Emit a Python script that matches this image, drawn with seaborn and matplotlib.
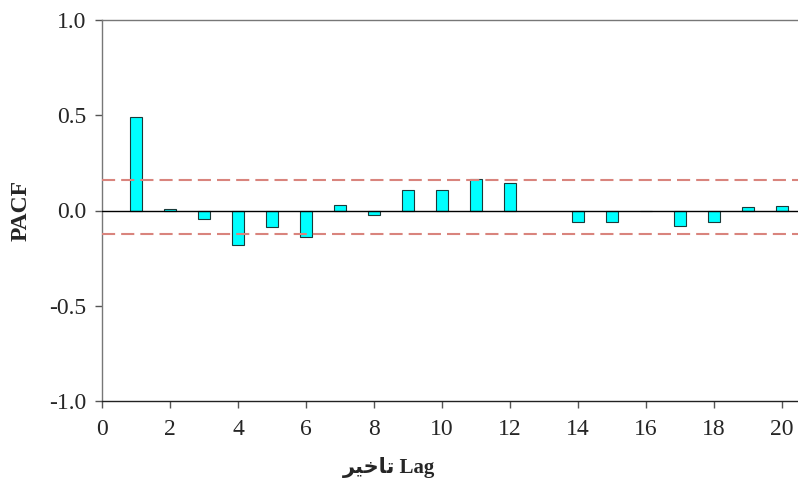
import matplotlib
matplotlib.use("Agg")
import matplotlib.pyplot as plt
import seaborn as sns
import pandas as pd

lags = [1, 2, 3, 4, 5, 6, 7, 8, 9, 10, 11, 12, 14, 15, 16, 17, 18, 19, 20]
pacf = [0.49, 0.01, -0.045, -0.18, -0.085, -0.14, 0.03, -0.025, 0.11, 0.107,
        0.166, 0.143, -0.058, -0.058, -0.005, -0.079, -0.058, 0.016, 0.026]
upper_ci = 0.162
lower_ci = -0.124
x_ticks = [0, 2, 4, 6, 8, 10, 12, 14, 16, 18, 20]
y_ticks = [-1.0, -0.5, 0.0, 0.5, 1.0]
y_label = "PACF"
x_label = "\ufeae\ufef4\ufea7\ufe8e\ufe97 Lag"

sns.set_style("white")
plt.rcParams['font.family'] = ['Liberation Serif', 'DejaVu Sans']

df = pd.DataFrame({"lag": lags, "pacf": pacf})

fig = plt.figure(figsize=(7.98, 4.79), dpi=100)
ax = fig.add_axes([102/798, 1-401/479, 696/798, (401-20)/479])

sns.barplot(data=df, x="lag", y="pacf", native_scale=True, width=0.35,
            color="#00FFFF", saturation=1, edgecolor="#1a3a3a", linewidth=0.8, ax=ax)

ax.axhline(0, color="black", linewidth=1.0, zorder=3)
ax.axhline(upper_ci, color="#d9847d", linewidth=1.5, dashes=(6.3, 2.9), zorder=3)
ax.axhline(lower_ci, color="#d9847d", linewidth=1.5, dashes=(6.3, 2.9), zorder=3)

ax.set_xlim(0, 20.47)
ax.set_ylim(-1.0, 1.0)
ax.set_xticks(x_ticks)
ax.set_xticklabels([str(t) for t in x_ticks])
ax.set_yticks(y_ticks)
ax.set_yticklabels([f"{t:.1f}" for t in y_ticks])
ax.tick_params(axis="both", which="major", direction="out", length=5, width=1,
               color="#555555", labelsize=17, bottom=True, left=True)
ax.tick_params(axis="x", pad=8)
ax.tick_params(axis="y", pad=6)

for side in ["left", "top"]:
    ax.spines[side].set_visible(True)
    ax.spines[side].set_color("#777777")
    ax.spines[side].set_linewidth(1.0)
ax.spines["bottom"].set_color("#222222")
ax.spines["bottom"].set_linewidth(1.0)
ax.spines["right"].set_visible(False)

ax.set_ylabel(y_label, fontsize=17, fontweight="bold")
ax.yaxis.set_label_coords(-70/696, 0.5)
ax.set_xlabel(x_label, fontsize=15, fontweight="bold")
ax.xaxis.set_label_coords((389-102)/696, -(467-401)/381)
ax.xaxis.label.set_va("center")

fig.savefig("out.png", dpi=100)
